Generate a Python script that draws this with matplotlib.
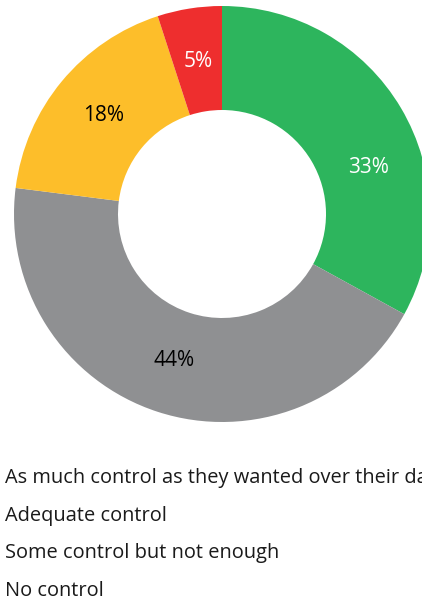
import matplotlib
matplotlib.use("Agg")
import numpy as np
import matplotlib.pyplot as plt

# === DATA ===
categories = [
    "As much control as they wanted over their day",
    "Adequate control",
    "Some control but not enough",
    "No control",
]
shares = [33, 44, 18, 5]
pct_labels = ["33%", "44%", "18%", "5%"]

colors = ["#2db55d", "#8f9092", "#fdbe2a", "#ee2e2e"]
label_colors = ["white", "black", "black", "white"]
label_shift = [-13, 0, 0, 0]  # degrees, nudges the 33% label off the clipped edge

plt.rcParams["font.family"] = ["Open Sans", "DejaVu Sans"]

fig = plt.figure(figsize=(4.22, 6.0), dpi=100)
ax = fig.add_axes([14 / 422, 178 / 600, 416 / 422, 416 / 600])

wedges, _ = ax.pie(
    shares,
    colors=colors,
    startangle=90,
    counterclock=False,
    radius=1.0,
    wedgeprops=dict(width=0.5, linewidth=0),
)
ax.set_xlim(-1, 1)
ax.set_ylim(-1, 1)
ax.set_aspect("equal")
ax.axis("off")

# --- percentage labels in each ring segment ---
for w, txt, c, shift in zip(wedges, pct_labels, label_colors, label_shift):
    mid = np.deg2rad((w.theta1 + w.theta2) / 2 + shift)
    r = 0.74
    ax.text(r * np.cos(mid), r * np.sin(mid), txt, ha="center", va="center",
            color=c, fontsize=15)

# --- legend as plain text rows (first one runs past the edge, as in the source) ---
for i, name in enumerate(categories):
    fig.text(5 / 422, 1 - (483 + 37.7 * i) / 600, name, ha="left", va="baseline",
             fontsize=14.4, color="#1a1a1a")

fig.savefig("out.png", dpi=100)
